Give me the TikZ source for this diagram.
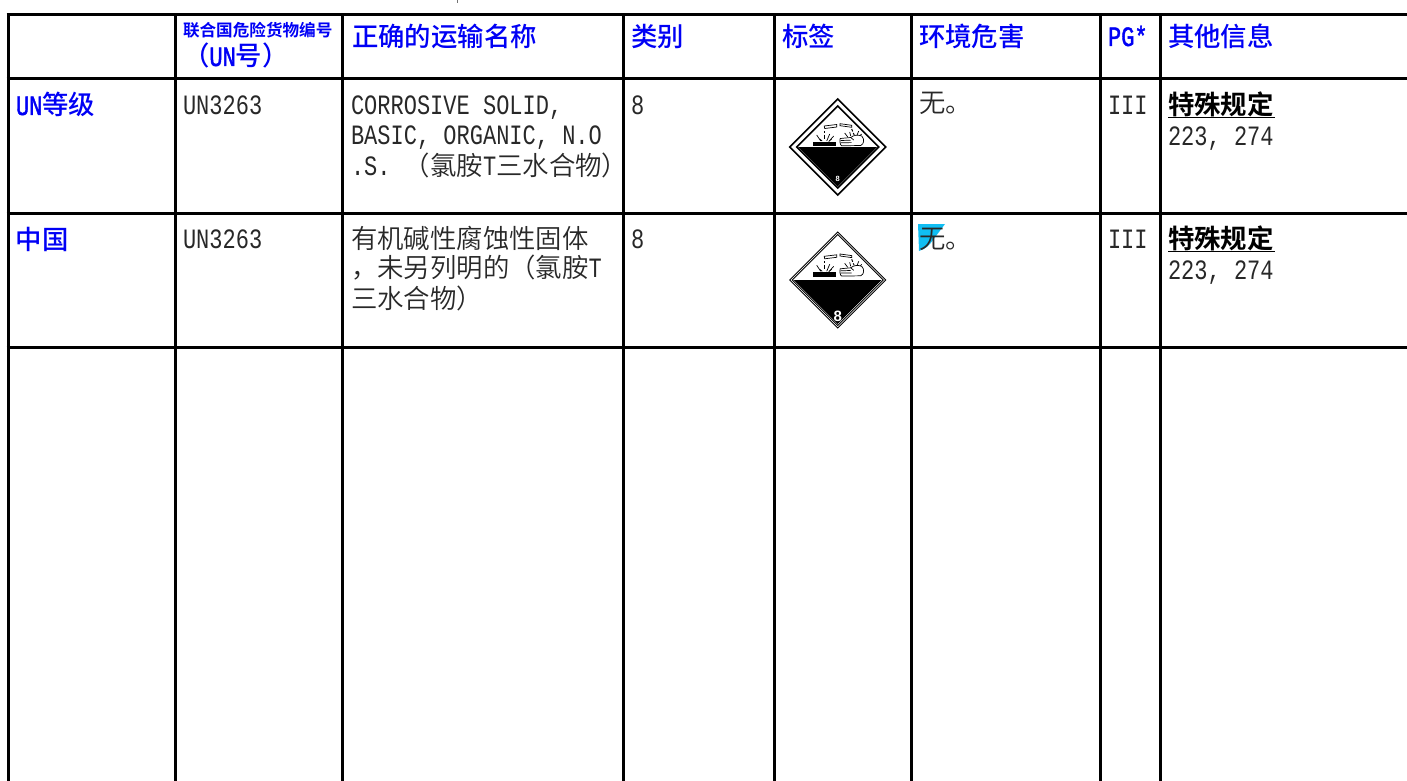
\documentclass[tikz,border=0pt]{standalone}
\usepackage{fontspec}
\newfontfamily\zhreg{Noto Sans CJK SC DemiLight}
\newfontfamily\zhmed{Noto Sans CJK SC Medium}
\newfontfamily\zhbold{Noto Sans CJK SC Bold}
\newfontfamily\latm[FakeStretch=0.786]{Liberation Mono}
\newfontfamily\latb[FakeStretch=0.786,FakeBold=1.5]{Liberation Mono}
\newfontfamily\eightf{Liberation Sans}
\newcommand{\zh}[1]{{\zhreg\fontsize{26.4}{26.4}\selectfont #1}}
\newcommand{\zhh}[1]{{\zhmed\fontsize{26.4}{26.4}\selectfont #1}}
\newcommand{\zhk}[1]{{\zhbold\fontsize{26.4}{26.4}\selectfont #1}}
\newcommand{\zhs}[1]{{\zhbold\fontsize{16.6}{16.6}\selectfont #1}}
\newcommand{\lt}[1]{{\latm\fontsize{28}{28}\selectfont #1}}
\newcommand{\lth}[1]{{\latb\fontsize{28}{28}\selectfont #1}}
\definecolor{hdrblue}{RGB}{0,0,245}
\definecolor{bodygrey}{RGB}{40,40,40}
\definecolor{hilite}{RGB}{16,190,243}
\tikzset{
  gridline/.style={line width=3pt,black},
  txt/.style={anchor=base west,inner sep=0pt,outer sep=0pt,text=bodygrey},
  hdr/.style={txt,text=hdrblue},
  pictoline/.style={line width=0.7pt,black},
}
\newcommand{\hazardicon}[7]{%
  \begin{scope}[shift={(#2)}]
    \draw[line width=#3,black,fill=white,line join=miter] (0,-48)--(48,0)--(0,48)--(-48,0)--cycle;
    \draw[line width=#3,black,line join=miter] (0,-#4)--(#4,0)--(0,#4)--(-#4,0)--cycle;
    \fill[black] (-#5,0)--(#5,0)--(0,#5)--cycle;
    \begin{scope}[shift={(0,#6)}]
      \fill[black] (-24.3,-5) rectangle (-1.7,-0.7);
      \filldraw[pictoline,fill=white] (-13.5,-21)--(-1,-22.5)--(-1,-20)--(-13,-18.5)--cycle;
      \filldraw[pictoline,fill=white] (2.3,-23.3)--(14,-21.7)--(14,-19.7)--(2.3,-21.3)--cycle;
      \draw[line width=1.2pt,black] (-13.5,-16)--(-13.5,-14) (-13.5,-12.5)--(-13.5,-8);
      \draw[pictoline] (-21,-12)--(-17,-6) (-18,-8)--(-15.5,-6) (-8,-13)--(-11,-6) (-4,-11)--(-8.5,-6) (-6,-8)--(-9,-5.5);
      \draw[line width=1pt,black] (14,-18)--(15,-15.5) (15.5,-14)--(16.5,-12);
      \draw[pictoline] (7,-14)--(10,-10) (21,-16)--(19,-11) (24,-13)--(20,-9) (12,-15)--(13,-11);
      \filldraw[pictoline,fill=white] (2.5,-8.5)--(13,-9.5)..controls (16,-12) and (20,-12.5)..(24,-11)
        ..controls (27,-8) and (26.5,-3)..(23,-1.5)--(4,-1.2)..controls (2,-2) and (2,-7)..(2.5,-8.5)--cycle;
      \draw[pictoline] (3,-6.5)--(13,-6.8) (3,-4.2)--(14,-4.4) (13,-9.5)--(16,-7);
    \end{scope}
    \node #7;
  \end{scope}}
\begin{document}
\begin{tikzpicture}[x=1pt,y=-1pt]
\useasboundingbox (0,0) rectangle (1407,781);
\begin{scope}
\clip (0,0) rectangle (1407,781);
\foreach \gx in {8,175,342,623,774,911,1100,1160} \draw[gridline] (\gx,15)--(\gx,782);
\foreach \gy in {15,79,213,347} \draw[gridline] (6.5,\gy)--(1408,\gy);
\end{scope}
\fill[black!55] (456.6,0) rectangle (457.6,3);
% header
\node[hdr] (hA1) at (183,37) {\zhs{联合国危险货物编号}};
\node[hdr] (hA2) at (183,66) {\zhh{（}\lth{UN}\zhh{号）}};
\node[hdr] (hB) at (352,47) {\zhh{正确的运输名称}};
\node[hdr] (hC) at (631,47) {\zhh{类别}};
\node[hdr] (hD) at (782,47) {\zhh{标签}};
\node[hdr] (hE) at (919,47) {\zhh{环境危害}};
\node[hdr] (hF) at (1108,46) {\lth{PG*}};
\node[hdr] (hG) at (1168,47) {\zhh{其他信息}};
% row 1
\node[hdr] (r1a) at (16,115) {\lth{UN}\zhh{等级}};
\node[txt] (r1b) at (183,114) {\lt{UN3263}};
\node[txt] (r1c1) at (351,114) {\lt{CORROSIVE SOLID,}};
\node[txt] (r1c2) at (351,144) {\lt{BASIC, ORGANIC, N.O}};
\node[txt] (r1c3) at (351,175) {\lt{.S. }\zh{（氯胺}\lt{T}\zh{三水合物）}};
\node[txt] (r1d) at (631,114) {\lt{8}};
\node[txt] (r1e) at (919,113) {\zh{无。}};
\node[txt] (r1f) at (1108,114) {\lt{III}};
\node[txt,text=black] (r1g1) at (1168,114) {\zhk{特殊规定}};
\draw[line width=1.8pt,black] (1168,117.5)--(1275,117.5);
\node[txt] (r1g2) at (1168,145) {\lt{223, 274}};
% row 2
\node[hdr] (r2a) at (16,249) {\zhh{中国}};
\node[txt] (r2b) at (183,248) {\lt{UN3263}};
\node[txt] (r2c1) at (351,248) {\zh{有机碱性腐蚀性固体}};
\node[txt] (r2c2) at (351,277) {\zh{，未另列明的（氯胺}\lt{T}};
\node[txt] (r2c3) at (351,308) {\zh{三水合物）}};
\node[txt] (r2d) at (631,248) {\lt{8}};
\fill[hilite] (918,224)--(945,224)--(933,240)..controls (929,246) and (925,249)..(919,251)--cycle;
\node[txt] (r2e) at (919,248) {\zh{无。}};
\node[txt] (r2f) at (1108,248) {\lt{III}};
\node[txt,text=black] (r2g1) at (1168,248) {\zhk{特殊规定}};
\draw[line width=1.8pt,black] (1168,251.5)--(1275,251.5);
\node[txt] (r2g2) at (1168,279) {\lt{223, 274}};
% hazard labels
\hazardicon{1}{837.7,147}{1.7pt}{41}{39.5}{0}{[text=white,inner sep=0pt,font=\eightf\bfseries\fontsize{7.5}{7.5}\selectfont] (d1) at (0,32) {8}}
\hazardicon{2}{837.7,280}{1pt}{45.5}{44}{-2.7}{[text=white,inner sep=0pt,font=\eightf\bfseries\fontsize{15}{15}\selectfont] (d2) at (0,36) {8}}
\end{tikzpicture}
\end{document}
